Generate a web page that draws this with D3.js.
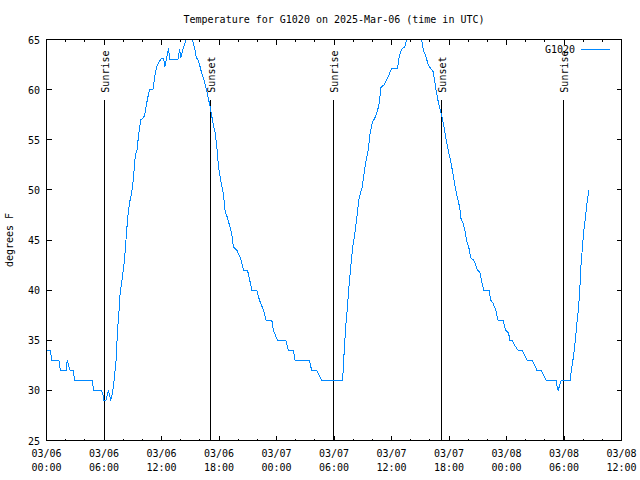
<!DOCTYPE html>
<html><head><meta charset="utf-8">
<script src="https://cdn.jsdelivr.net/npm/d3@7"></script>
<style>
body{margin:0;background:#fff}
text{font-family:"DejaVu Sans Mono",monospace;font-size:10px;fill:#000}
</style>
</head><body><svg id="c" width="640" height="480"></svg>
<script>
const chartTitle = "Temperature for G1020 on 2025-Mar-06 (time in UTC)";
const seriesName = "G1020";
const yLabel = "degrees F";
const startTime = "2025-03-06T00:00:00Z";
const endTime = "2025-03-08T12:00:00Z";
// hours since 03/06 00:00 UTC
const hours = [0,0.4,0.55,1.3,1.45,2.05,2.16,2.3,2.45,2.78,2.95,4.76,4.93,5.73,5.9,6.0,6.2,6.46,6.7,6.88,7.0,7.11,7.26,7.36,7.47,7.57,7.64,7.8,7.95,8.1,8.23,8.33,8.44,8.54,8.68,8.85,8.96,9.1,9.2,9.3,9.45,9.58,9.72,9.85,10.14,10.31,10.42,10.59,10.76,11.11,11.22,11.35,11.46,11.56,11.7,11.98,12.22,12.36,12.5,12.74,12.85,13.72,13.89,14.03,14.24,14.41,14.58,14.9,15.2,15.45,15.63,15.8,15.97,16.15,16.32,16.49,16.67,16.8,17.08,17.36,17.6,17.78,17.95,18.2,18.47,18.65,18.89,19.17,19.34,19.51,19.86,20.1,20.31,20.56,20.97,21.25,21.42,21.94,22.22,22.64,22.92,23.51,23.68,24.1,24.96,25.24,25.76,25.94,27.43,27.67,28.19,28.47,28.71,30.9,31.04,31.21,31.39,31.56,31.77,31.94,32.12,32.29,32.47,32.64,32.71,32.95,33.16,33.4,33.58,33.75,33.99,34.27,34.51,34.69,34.9,35.24,35.49,35.66,36.01,36.63,36.81,37.05,37.4,37.57,37.8,38.4,38.9,39.13,39.31,39.58,39.83,40.1,40.35,40.52,40.69,40.94,41.22,41.49,41.74,41.91,42.19,42.43,42.6,42.88,43.13,43.23,43.47,43.65,43.82,44.06,44.27,44.58,44.79,44.97,45.21,45.38,45.63,46.18,46.35,46.6,46.88,47.12,47.64,47.92,48.23,48.33,48.61,48.85,49.2,49.65,49.9,50.14,50.7,50.94,51.18,51.63,51.88,52.15,53.19,53.26,53.4,53.54,53.72,54.65,54.76,54.93,55.07,55.21,55.35,55.49,55.63,55.76,55.9,56.04,56.2,56.4,56.6];
const tempF = [34,34,33,33,32,32,33,32.5,32,32,31,31,30,30,29.5,29,29,30,29,29.7,30.6,31.5,33,35,36.7,38,39.3,40.5,41.5,42.7,44.1,45.5,46.8,47.8,48.8,49.5,50.2,51.5,52.8,53.5,54,55.2,56.2,57,57.2,57.8,58.5,59.3,60,60,60.8,61.6,62.1,62.4,62.7,63.1,63.1,62.3,63,64.1,63,63,64,63.2,64,64.5,65,65.4,65,64.2,63.2,63,62.5,61.8,61.3,60.8,60.1,59.5,58.3,56.7,55.7,54.2,52.3,50.8,49.5,47.8,47.2,46.2,45.5,44.3,44,43.5,43,42,42,40.8,40,40,39,38,37,37,36,35,35,34,34,33,33,32,32,31.5,31,31,33.5,36.2,38.2,40.3,42.5,44.2,45.3,46.5,48,49.3,49.5,50.3,51.8,53.2,54,55.5,56.7,57.2,57.8,58.5,60.2,60.5,61,61.3,62.1,62.1,63.3,64,64.3,65,66,66.5,66,65,64,63.3,62.5,62.1,61.8,60.8,59.7,58.5,57.5,56.2,54.8,54,52.8,51.5,50.5,49.2,48.2,47.2,46.7,46,45,44.3,43.2,43,42.5,42,41.8,41,40,40,39,38.7,38,37,37,36,35.7,35,35,34.5,34,34,33.5,33,33,32.5,32,32,31.5,31,31,30.5,30,30.5,31,31,32,33,34,35.3,36.7,38,39.7,42.3,44,45.7,47,48.7,50];
const sunriseHours = [5.95, 29.93, 53.88];
const sunsetHours = [17.1, 41.17];
const sunLineTop = 59;
const yTicks = [25,30,35,40,45,50,55,60,65];

const svg = d3.select("#c");
const t0 = new Date(startTime).getTime();
const toDate = h => new Date(t0 + h*3600e3);
const x = d3.scaleUtc().domain([new Date(startTime), new Date(endTime)]).range([46.5, 621.5]);
const y = d3.scaleLinear().domain([25,65]).range([440.5, 39.5]);

svg.append("rect").attr("width",640).attr("height",480).attr("fill","#fff");

svg.append("clipPath").attr("id","pc").append("rect")
  .attr("x",46.5).attr("y",39.5).attr("width",575).attr("height",401);

svg.append("text").attr("x",334).attr("y",23).attr("text-anchor","middle").text(chartTitle);

svg.append("text").attr("transform","translate(13,240) rotate(-90)").attr("text-anchor","middle").text(yLabel);

const majorX = d3.utcHour.every(6).range(new Date(startTime), new Date(new Date(endTime).getTime()+1));
const minorX = d3.utcHour.every(2).range(new Date(startTime), new Date(new Date(endTime).getTime()+1));
const tg = svg.append("g").attr("stroke","#000").attr("stroke-width",1).attr("shape-rendering","crispEdges");
minorX.forEach(d=>{
  const big = majorX.some(m=>+m===+d);
  const L = big?5:2;
  tg.append("line").attr("x1",x(d)).attr("x2",x(d)).attr("y1",440.5).attr("y2",440.5-L);
  tg.append("line").attr("x1",x(d)).attr("x2",x(d)).attr("y1",39.5).attr("y2",39.5+L);
});
yTicks.forEach(v=>{
  tg.append("line").attr("x1",46.5).attr("x2",51.5).attr("y1",y(v)).attr("y2",y(v));
  tg.append("line").attr("x1",621.5).attr("x2",616.5).attr("y1",y(v)).attr("y2",y(v));
});

const fmtD = d3.utcFormat("%m/%d"), fmtH = d3.utcFormat("%H:%M");
majorX.forEach(d=>{
  svg.append("text").attr("x",x(d)).attr("y",457).attr("text-anchor","middle").text(fmtD(d));
  svg.append("text").attr("x",x(d)).attr("y",471).attr("text-anchor","middle").text(fmtH(d));
});
yTicks.forEach(v=>{
  svg.append("text").attr("x",40).attr("y",y(v)+4).attr("text-anchor","end").text(v);
});

const sg = svg.append("g");
function sunLine(h, label){
  const xx = Math.round(x(toDate(h)))+0.5;
  sg.append("line").attr("x1",xx).attr("x2",xx).attr("y1",y(25)).attr("y2",y(sunLineTop))
    .attr("stroke","#000").attr("shape-rendering","crispEdges");
  sg.append("text").attr("transform",`translate(${xx+4.5},${y(sunLineTop)-7}) rotate(-90)`)
    .attr("text-anchor","start").text(label);
}
sunriseHours.forEach(h=>sunLine(h,"Sunrise"));
sunsetHours.forEach(h=>sunLine(h,"Sunset"));

const pts = hours.map((h,i)=>[toDate(h), tempF[i]]);
svg.append("path").datum(pts).attr("clip-path","url(#pc)")
  .attr("fill","none").attr("stroke","#0088ff").attr("stroke-width",1)
  .attr("shape-rendering","crispEdges")
  .attr("d", d3.line().x(d=>x(d[0])).y(d=>y(d[1])));

svg.append("rect").attr("x",46.5).attr("y",39.5).attr("width",575).attr("height",401)
  .attr("fill","none").attr("stroke","#000").attr("shape-rendering","crispEdges");

svg.append("text").attr("x",575).attr("y",53).attr("text-anchor","end").text(seriesName);
svg.append("line").attr("x1",581).attr("x2",610).attr("y1",49.5).attr("y2",49.5)
  .attr("stroke","#0088ff").attr("shape-rendering","crispEdges");
</script></body></html>
